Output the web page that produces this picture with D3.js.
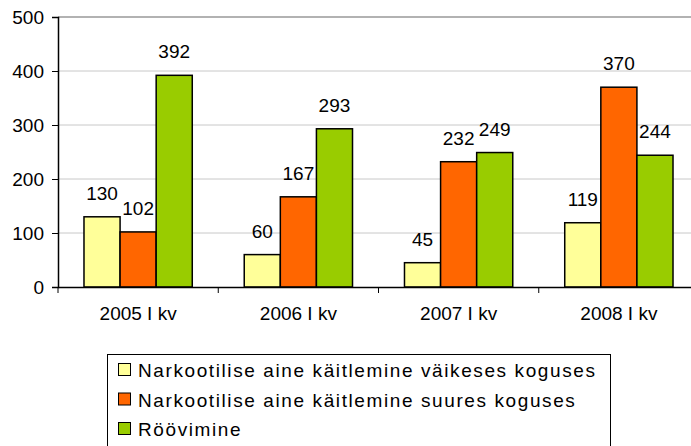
<!DOCTYPE html>
<html>
<head>
<meta charset="utf-8">
<script src="https://cdn.jsdelivr.net/npm/d3@7"></script>
<style>
  body { margin: 0; background: #fff; }
  svg { display: block; font-family: "Liberation Sans", Arial, sans-serif; }
</style>
</head>
<body>
<svg width="691" height="446"></svg>
<script>
// andmed
const periods = ["2005 I kv", "2006 I kv", "2007 I kv", "2008 I kv"];
const seriesNames = [
  "Narkootilise aine käitlemine väikeses koguses",
  "Narkootilise aine käitlemine suures koguses",
  "Röövimine"
];
const smallAmount = [130, 60, 45, 119];
const largeAmount = [102, 167, 232, 370];
const robbery = [392, 293, 249, 244];
const yTicks = [0, 100, 200, 300, 400, 500];
const colors = ["#FFFF99", "#FF6600", "#99CC00"];

const series = [smallAmount, largeAmount, robbery];

const svg = d3.select("svg");
const plotLeft = 58, plotRight = 699, plotTop = 17, plotBottom = 287;

const x = d3.scaleBand().domain(periods).range([plotLeft, plotRight]);
const x1 = d3.scaleBand().domain(d3.range(series.length))
  .range([0, x.bandwidth()]).paddingOuter(0.72).paddingInner(0);
const y = d3.scaleLinear().domain([0, 500]).range([plotBottom, plotTop]);

// ruudustik
svg.append("g").selectAll("line")
  .data(yTicks.filter(d => d > 0))
  .enter().append("line")
  .attr("x1", plotLeft).attr("x2", 691)
  .attr("y1", d => y(d)).attr("y2", d => y(d))
  .attr("stroke", d => d === 500 ? "#999" : "#c8c8c8")
  .attr("stroke-width", d => d === 500 ? 1.5 : 1);

// tulbad
const groups = svg.append("g").selectAll("g")
  .data(periods)
  .enter().append("g")
  .attr("transform", d => `translate(${x(d)},0)`);

groups.selectAll("rect")
  .data((p, i) => series.map((s, k) => ({ k, v: s[i] })))
  .enter().append("rect")
  .attr("x", d => x1(d.k))
  .attr("width", x1.bandwidth())
  .attr("y", d => y(d.v))
  .attr("height", d => y(0) - y(d.v))
  .attr("fill", d => colors[d.k])
  .attr("stroke", "#000")
  .attr("stroke-width", 1.5);

groups.selectAll("text")
  .data((p, i) => series.map((s, k) => ({ k, v: s[i] })))
  .enter().append("text")
  .attr("x", d => x1(d.k) + x1.bandwidth() / 2)
  .attr("y", d => y(d.v) - 17)
  .attr("text-anchor", "middle")
  .attr("font-size", 19)
  .attr("fill", "#000")
  .text(d => d.v);

// teljed
const yAxis = svg.append("g")
  .attr("transform", `translate(${plotLeft},0)`)
  .call(d3.axisLeft(y).tickValues(yTicks).tickSize(6).tickPadding(8));
yAxis.select(".domain").attr("stroke", "#000").attr("stroke-width", 1.5);
yAxis.selectAll("line").attr("stroke", "#000");
yAxis.selectAll("text").attr("font-size", 19).attr("font-family", null).attr("fill", "#000");

const xAxis = svg.append("g")
  .attr("transform", `translate(0,${plotBottom})`)
  .call(d3.axisBottom(x).tickSize(0).tickPadding(20));
xAxis.select(".domain").attr("stroke", "#000").attr("stroke-width", 1.5);
xAxis.selectAll("text").attr("font-size", 19).attr("font-family", null).attr("fill", "#000");

svg.append("g").selectAll("line")
  .data(periods)
  .enter().append("line")
  .attr("x1", d => x(d)).attr("x2", d => x(d))
  .attr("y1", plotBottom).attr("y2", plotBottom + 6)
  .attr("stroke", "#000");

// legend
const legend = svg.append("g");
legend.append("rect")
  .attr("x", 107.5).attr("y", 354.5)
  .attr("width", 503).attr("height", 100)
  .attr("fill", "#fff").attr("stroke", "#000");

const items = legend.selectAll("g.item")
  .data(seriesNames)
  .enter().append("g")
  .attr("class", "item")
  .attr("transform", (d, i) => `translate(118,${370 + i * 29.5})`);
items.append("rect")
  .attr("x", 0.5).attr("y", -6.5)
  .attr("width", 12).attr("height", 12)
  .attr("fill", (d, i) => colors[i])
  .attr("stroke", "#000");
items.append("text")
  .attr("x", 20).attr("y", 7)
  .attr("font-size", 19)
  .attr("letter-spacing", 1.6)
  .attr("fill", "#000")
  .text(d => d);
</script>
</body>
</html>
